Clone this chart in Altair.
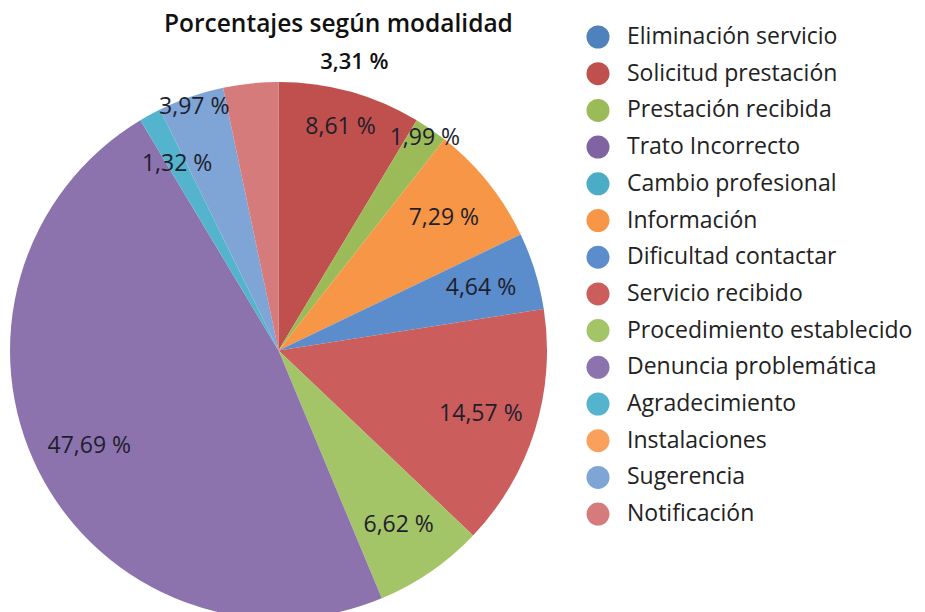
import altair as alt
import pandas as pd

categories = [
    "Eliminación servicio", "Solicitud prestación", "Prestación recibida",
    "Trato Incorrecto", "Cambio profesional", "Información",
    "Dificultad contactar", "Servicio recibido", "Procedimiento establecido",
    "Denuncia problemática", "Agradecimiento", "Instalaciones",
    "Sugerencia", "Notificación",
]
values = [0, 8.61, 1.99, 0, 0, 7.29, 4.64, 14.57, 6.62, 47.69, 1.32, 0, 3.97, 3.31]
colors = [
    "#4F81BD", "#C0504D", "#9BBB59", "#8064A2", "#4BACC6", "#F79646",
    "#5B8CCB", "#CB5E5C", "#A4C468", "#8C73AE", "#55B4CD", "#F9A05C",
    "#7FA4D6", "#D67B7B",
]

inner_labels = ["Información", "Dificultad contactar", "Servicio recibido",
                "Procedimiento establecido", "Denuncia problemática", "Agradecimiento"]
mid_labels = ["Solicitud prestación"]
outer_labels = ["Prestación recibida", "Sugerencia"]
top_labels = ["Notificación"]

df = pd.DataFrame({"cat": categories, "value": values, "ord": list(range(len(values)))})

CX, CY = 270.5, 302.5
fmt = "replace(format(datum.value, '.2f'), '.', ',') + ' %'"
LABEL_FONT = "Open Sans"
LABEL_COLOR = "#1e1e2c"


def sel(names):
    arr = "[" + ",".join("'" + n + "'" for n in names) + "]"
    return f"indexof({arr}, datum.cat) >= 0 ? {fmt} : ''"


base = alt.Chart(df).encode(
    theta=alt.Theta("value:Q", stack=True),
    order=alt.Order("ord:Q"),
    x=alt.value(CX),
    y=alt.value(CY),
)

pie = base.mark_arc(radius=268.5).encode(
    color=alt.Color(
        "cat:N",
        sort=categories,
        scale=alt.Scale(domain=categories, range=colors),
        legend=alt.Legend(
            title=None, orient="none", legendX=578, legendY=-23,
            symbolType="circle", symbolSize=530, symbolStrokeWidth=0,
            labelFont=LABEL_FONT, labelFontSize=23, labelColor="#222222",
            labelOffset=17, rowPadding=12.7, padding=0, labelLimit=400,
        ),
    )
)


def labels(names, r, **kw):
    return base.mark_text(radius=r, font=LABEL_FONT, fontSize=23, color=LABEL_COLOR, **kw).transform_calculate(
        lab=sel(names)
    ).encode(text="lab:N")


lab_in = labels(inner_labels, 212)
lab_mid = labels(mid_labels, 232)
lab_out = labels(outer_labels, 258)
lab_top = base.mark_text(radius=290, dx=106, font=LABEL_FONT, fontSize=22, fontWeight=600,
                         color="#111111").transform_calculate(
    lab=sel(top_labels)
).encode(text="lab:N")

chart = alt.layer(pie, lab_in, lab_mid, lab_out, lab_top).properties(
    width=909, height=564,
    autosize=alt.AutoSizeParams(type="none"),
    padding={"top": 40, "left": 0, "right": 0, "bottom": 0},
    title=alt.TitleParams(
        "Porcentajes según modalidad", anchor="start", dx=156, offset=-31,
        font=LABEL_FONT, fontSize=24.5, fontWeight=600, color="#111111",
        baseline="alphabetic",
    ),
).configure_view(stroke=None)

chart.save("out.html", embed_options={"renderer": "svg", "actions": False})
